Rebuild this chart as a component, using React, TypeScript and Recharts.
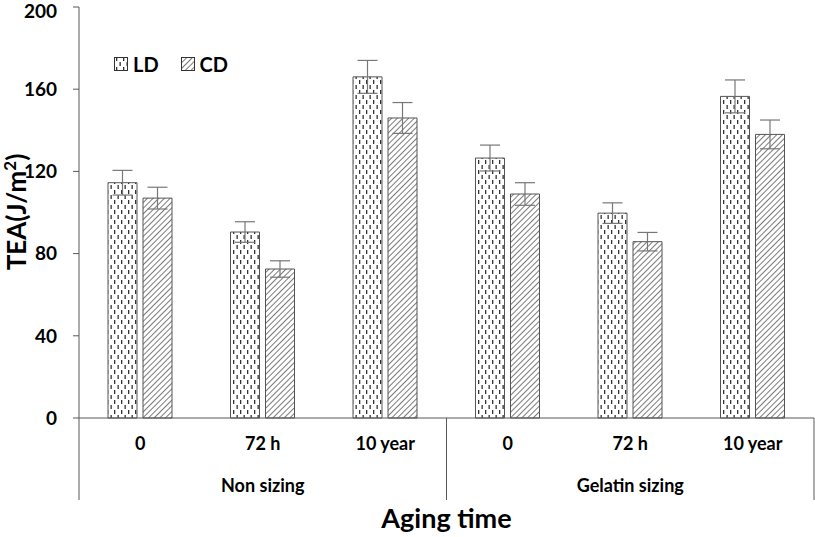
import { BarChart, Bar, XAxis, YAxis, ErrorBar, Label } from "recharts";

const categories = ["0", "72 h", "10 year", "0", "72 h", "10 year"];
const groups = ["Non sizing", "Non sizing", "Non sizing", "Gelatin sizing", "Gelatin sizing", "Gelatin sizing"];
const ldValues = [114.5, 90.5, 166, 126.5, 99.7, 156.5];
const cdValues = [107, 72.5, 146, 109, 85.8, 138];
const ldErrors = [6, 5, 8, 6.3, 5, 8];
const cdErrors = [5.3, 4, 7.5, 5.5, 4.5, 7];
const yTicks = [0, 40, 80, 120, 160, 200];

const data = categories.map((c, i) => ({
  cat: c,
  group: groups[i],
  LD: ldValues[i],
  CD: cdValues[i],
  ldErr: ldErrors[i],
  cdErr: cdErrors[i],
}));

const FONT = "Lato, 'Open Sans', sans-serif";
const AXIS = "#595959";

function Patterns({ prefix }: { prefix: string }) {
  return (
    <defs>
      <pattern id={prefix + "ld"} width="7" height="10" patternUnits="userSpaceOnUse">
        <rect width="7" height="10" fill="#fff" />
        <rect x="2" y="0" width="1.3" height="4" fill="#333" />
        <rect x="5.5" y="5" width="1.3" height="4" fill="#333" />
      </pattern>
      <pattern id={prefix + "cd"} width="4" height="4" patternUnits="userSpaceOnUse" patternTransform="rotate(45)">
        <rect width="4" height="4" fill="#fff" />
        <line x1="0" y1="0" x2="0" y2="4" stroke="#333" strokeWidth="1.3" />
      </pattern>
    </defs>
  );
}

function CategoryTick(props: any) {
  const { x, payload, index } = props;
  const half = 735 / 12;
  const top = 418;
  return (
    <g>
      <text x={x} y={top + 32} textAnchor="middle" fontFamily={FONT} fontWeight="bold" fontSize={18} fill="#000">
        {payload.value}
      </text>
      {(index === 1 || index === 4) && (
        <text x={x} y={top + 74} textAnchor="middle" fontFamily={FONT} fontWeight="bold" fontSize={18} fill="#000">
          {groups[index]}
        </text>
      )}
      {(index === 0 || index === 3) && (
        <line x1={x - half} y1={top} x2={x - half} y2={top + 82} stroke={AXIS} />
      )}
      {index === 5 && <line x1={x + half} y1={top} x2={x + half} y2={top + 82} stroke={AXIS} />}
    </g>
  );
}

function ChartLegend() {
  const items = [
    { name: "LD", id: "lgld" },
    { name: "CD", id: "lgcd" },
  ];
  return (
    <div style={{ position: "absolute", left: 114, top: 52, display: "flex", alignItems: "center" }}>
      {items.map((it) => (
        <div key={it.name} style={{ display: "flex", alignItems: "center", marginRight: 22 }}>
          <svg width="14" height="14">
            <Patterns prefix="lg" />
            <rect x="0.5" y="0.5" width="13" height="13" fill={`url(#${it.id})`} stroke="#333" />
          </svg>
          <span style={{ fontFamily: FONT, fontWeight: "bold", fontSize: 20, marginLeft: 5, color: "#000" }}>{it.name}</span>
        </div>
      ))}
    </div>
  );
}

export default function App() {
  return (
    <div style={{ position: "absolute", left: 0, top: 0, width: 815, height: 537, background: "#fff" }}>
      <BarChart
        width={815}
        height={537}
        data={data}
        margin={{ top: 7, right: 1, left: 0, bottom: 0 }}
        barSize={29}
        barGap={6}
      >
        <Patterns prefix="ch" />
        <XAxis
          dataKey="cat"
          height={119}
          stroke={AXIS}
          tickLine={false}
          tick={<CategoryTick />}
          interval={0}
        >
          <Label
            content={(p: any) => {
              const vb = p.viewBox;
              return (
                <text
                  x={vb.x + vb.width / 2}
                  y={528}
                  textAnchor="middle"
                  fontFamily={FONT}
                  fontWeight="bold"
                  fontSize={27}
                  fill="#000"
                >
                  Aging time
                </text>
              );
            }}
          />
        </XAxis>
        <YAxis
          width={79}
          domain={[0, 200]}
          ticks={yTicks}
          stroke={AXIS}
          tickSize={6}
          tick={{ fontFamily: FONT, fontWeight: "bold", fontSize: 19, fill: "#000" }}
          tickMargin={16}
        >
          <Label
            content={() => (
              <text
                transform="translate(26,212) rotate(-90)"
                textAnchor="middle"
                fontFamily={FONT}
                fontWeight="bold"
                fontSize={26}
                fill="#000"
              >
                TEA(J/m<tspan dy={-10} fontSize={17}>2</tspan>
                <tspan dy={10}>)</tspan>
              </text>
            )}
          />
        </YAxis>
        <Bar dataKey="LD" fill="url(#chld)" stroke="#555" strokeWidth={1} isAnimationActive={false}>
          <ErrorBar dataKey="ldErr" width={10} stroke="#777" strokeWidth={1.2} />
        </Bar>
        <Bar dataKey="CD" fill="url(#chcd)" stroke="#555" strokeWidth={1} isAnimationActive={false}>
          <ErrorBar dataKey="cdErr" width={10} stroke="#777" strokeWidth={1.2} />
        </Bar>
      </BarChart>
      <ChartLegend />
    </div>
  );
}
